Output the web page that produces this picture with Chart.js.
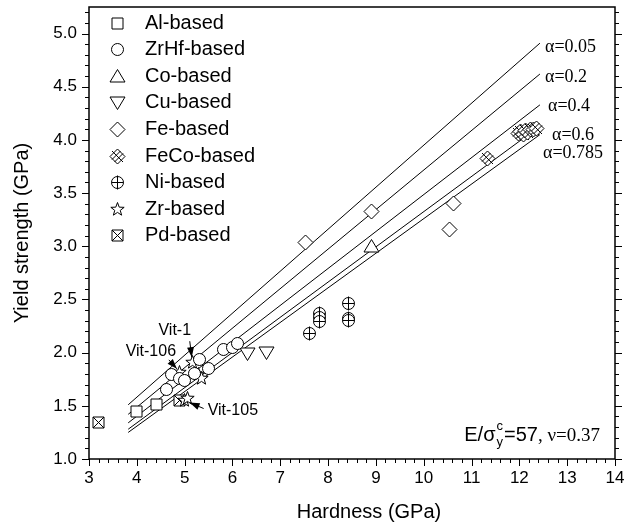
<!DOCTYPE html>
<html>
<head>
<meta charset="utf-8">
<script src="https://cdn.jsdelivr.net/npm/chart.js@4.4.0/dist/chart.umd.min.js"></script>
<style>html,body{margin:0;padding:0;background:#fff;}</style>
</head>
<body>
<canvas id="myChart" width="628" height="531"></canvas>
<script>
const xTicks = [3, 4, 5, 6, 7, 8, 9, 10, 11, 12, 13, 14];
const yTicks = [1.0, 1.5, 2.0, 2.5, 3.0, 3.5, 4.0, 4.5, 5.0];

// [hardness, yield strength]
const alBased = [[4.0, 1.45], [4.41, 1.51]];
const zrhfBased = [[4.62, 1.65], [4.72, 1.79], [4.9, 1.76], [5.0, 1.74], [5.2, 1.8],
  [5.32, 1.94], [5.5, 1.85], [5.82, 2.03], [6.0, 2.05], [6.1, 2.09]];
const coBased = [[8.91, 3.0]];
const cuBased = [[6.31, 1.99], [6.72, 2.0]];
const feBased = [[7.52, 3.04], [8.91, 3.33], [10.53, 3.16], [10.62, 3.4]];
const fecoBased = [[11.33, 3.83], [11.98, 4.06], [12.03, 4.08], [12.08, 4.05], [12.12, 4.09],
  [12.18, 4.07], [12.24, 4.1], [12.3, 4.1], [12.36, 4.11]];
const niBased = [[7.62, 2.18], [7.82, 2.37], [7.82, 2.33], [7.82, 2.29], [8.42, 2.46], [8.42, 2.32], [8.42, 2.3]];
const zrBased = [[4.9, 1.81], [5.17, 1.91], [5.28, 1.79], [5.35, 1.76], [5.0, 1.55], [5.06, 1.57]];
const pdBased = [[3.19, 1.34], [4.89, 1.55]];

// alpha reference lines: y at the two ends
const alphaX = [3.82, 12.43];
const alpha005 = [1.51, 4.91];
const alpha02 = [1.42, 4.62];
const alpha04 = [1.34, 4.33];
const alpha06 = [1.28, 4.13];
const alpha0785 = [1.25, 4.05];

const SANS = "'Liberation Sans', Arial, sans-serif";
const SERIF = "'Liberation Serif', 'Times New Roman', serif";

function sym(kind) {
  const s = 19, m = 9.5;
  const c = document.createElement('canvas');
  c.width = s; c.height = s;
  const g = c.getContext('2d');
  g.strokeStyle = '#000';
  g.fillStyle = '#fff';
  g.lineWidth = 1;
  g.beginPath();
  if (kind === 'square' || kind === 'pd') {
    g.rect(m - 5.5, m - 5.5, 11, 11);
  } else if (kind === 'circle' || kind === 'ni') {
    g.arc(m, m, 6, 0, Math.PI * 2);
  } else if (kind === 'up') {
    g.moveTo(m, m - 7); g.lineTo(m + 7.5, m + 5.5); g.lineTo(m - 7.5, m + 5.5); g.closePath();
  } else if (kind === 'down') {
    g.moveTo(m, m + 7); g.lineTo(m + 7.5, m - 5.5); g.lineTo(m - 7.5, m - 5.5); g.closePath();
  } else if (kind === 'diamond' || kind === 'feco') {
    g.moveTo(m, m - 7.5); g.lineTo(m + 7.5, m); g.lineTo(m, m + 7.5); g.lineTo(m - 7.5, m); g.closePath();
  } else if (kind === 'star') {
    for (let i = 0; i < 10; i++) {
      const r = i % 2 ? 2.9 : 7;
      const a = -Math.PI / 2 + i * Math.PI / 5;
      const px = m + r * Math.cos(a), py = m + r * Math.sin(a);
      if (i === 0) g.moveTo(px, py); else g.lineTo(px, py);
    }
    g.closePath();
  }
  g.fill();
  g.stroke();
  g.beginPath();
  if (kind === 'ni') {
    g.moveTo(m - 6, m); g.lineTo(m + 6, m);
    g.moveTo(m, m - 7); g.lineTo(m, m + 7);
  } else if (kind === 'feco') {
    [-2.5, 2.5].forEach(k => {
      g.moveTo(m + (k - 8.5) / 2, m + (k + 8.5) / 2); g.lineTo(m + (k + 8.5) / 2, m + (k - 8.5) / 2);
      g.moveTo(m + (k - 8.5) / 2, m - (k + 8.5) / 2 + k); g.lineTo(m + (k + 8.5) / 2, m - (k - 8.5) / 2 + k);
    });
  } else if (kind === 'pd') {
    g.moveTo(m - 5.5, m - 5.5); g.lineTo(m + 5.5, m + 5.5);
    g.moveTo(m + 5.5, m - 5.5); g.lineTo(m - 5.5, m + 5.5);
  }
  g.stroke();
  return c;
}

const series = [
  ['Al-based', alBased, sym('square')],
  ['ZrHf-based', zrhfBased, sym('circle')],
  ['Co-based', coBased, sym('up')],
  ['Cu-based', cuBased, sym('down')],
  ['Fe-based', feBased, sym('diamond')],
  ['FeCo-based', fecoBased, sym('feco')],
  ['Ni-based', niBased, sym('ni')],
  ['Zr-based', zrBased, sym('star')],
  ['Pd-based', pdBased, sym('pd')],
];

const alphaLines = [
  ['α=0.05', alpha005], ['α=0.2', alpha02], ['α=0.4', alpha04], ['α=0.6', alpha06], ['α=0.785', alpha0785],
];

const datasets = series.map(([label, pts, img]) => ({
  label,
  data: pts.map(([x, y]) => ({ x, y })),
  pointStyle: img,
  pointRadius: 6,
  showLine: false,
  order: 0,
}));
alphaLines.forEach(([label, ys]) => {
  datasets.push({
    label,
    data: alphaX.map((x, i) => ({ x, y: ys[i] })),
    showLine: true,
    borderColor: '#000',
    borderWidth: 1,
    pointRadius: 0,
    order: 10,
  });
});

function arrow(ctx, x1, y1, x2, y2) {
  const a = Math.atan2(y2 - y1, x2 - x1);
  ctx.beginPath();
  ctx.moveTo(x1, y1); ctx.lineTo(x2, y2);
  ctx.stroke();
  ctx.beginPath();
  ctx.moveTo(x2, y2);
  ctx.lineTo(x2 - 10 * Math.cos(a) + 3.5 * Math.sin(a), y2 - 10 * Math.sin(a) - 3.5 * Math.cos(a));
  ctx.lineTo(x2 - 10 * Math.cos(a) - 3.5 * Math.sin(a), y2 - 10 * Math.sin(a) + 3.5 * Math.cos(a));
  ctx.closePath();
  ctx.fill();
}

// no extra label overflow padding, so the plot box sits where the original one does
function noPad(s) {
  s.paddingTop = 0; s.paddingBottom = 0; s.paddingLeft = 0; s.paddingRight = 0;
}

const deco = {
  id: 'deco',
  beforeDatasetsDraw(chart) {
    chart.ctx.imageSmoothingEnabled = false;
  },
  afterDraw(chart) {
    const { ctx, chartArea: a, scales: { x, y } } = chart;
    ctx.save();
    ctx.imageSmoothingEnabled = false;
    ctx.strokeStyle = '#000';
    ctx.fillStyle = '#000';
    ctx.lineWidth = 1.5;
    ctx.strokeRect(a.left, a.top, a.right - a.left, a.bottom - a.top);
    ctx.lineWidth = 1;
    ctx.beginPath();
    for (let i = 0; i <= 55; i++) {
      const px = Math.round(x.getPixelForValue(3 + i * 0.2)) + 0.5;
      const len = i % 5 === 0 ? 7 : 4;
      ctx.moveTo(px, a.bottom); ctx.lineTo(px, a.bottom + len);
    }
    for (let i = 0; i <= 42; i++) {
      const py = Math.round(y.getPixelForValue(1 + i * 0.1)) + 0.5;
      const len = i % 5 === 0 ? 7 : 4;
      ctx.moveTo(a.left, py); ctx.lineTo(a.left - len, py);
      ctx.moveTo(a.right, py); ctx.lineTo(a.right + len, py);
    }
    ctx.stroke();

    // x axis title
    ctx.textAlign = 'center';
    ctx.textBaseline = 'middle';
    ctx.font = '20px ' + SANS;
    ctx.fillText('Hardness (GPa)', 369, 512);

    // legend
    ctx.textAlign = 'left';
    ctx.font = '20px ' + SANS;
    series.forEach(([label, , img], i) => {
      const ly = 23 + i * 26.6;
      ctx.drawImage(img, Math.round(117 - img.width / 2), Math.round(ly - img.height / 2));
      ctx.fillText(label, 145, ly);
    });

    // alpha labels
    ctx.font = '18px ' + SERIF;
    const alphaPos = [[545, 47], [545, 77], [548, 106], [552, 135], [543, 153]];
    alphaLines.forEach(([label], i) => ctx.fillText(label, alphaPos[i][0], alphaPos[i][1]));

    // Vit labels and arrows
    const s1 = [x.getPixelForValue(5.17), y.getPixelForValue(1.91)];
    const s106 = [x.getPixelForValue(4.9), y.getPixelForValue(1.81)];
    const s105 = [x.getPixelForValue(5.0), y.getPixelForValue(1.55)];
    ctx.font = '16px ' + SANS;
    ctx.textAlign = 'center';
    ctx.fillText('Vit-1', s1[0] - 18, s1[1] - 32);
    ctx.fillText('Vit-106', s106[0] - 29, s106[1] - 21);
    ctx.textAlign = 'left';
    ctx.fillText('Vit-105', s105[0] + 23, s105[1] + 10);
    arrow(ctx, s1[0] - 3, s1[1] - 21, s1[0] - 1, s1[1] - 5);
    arrow(ctx, s106[0] - 11, s106[1] - 13, s106[0] - 3, s106[1] - 4);
    arrow(ctx, s105[0] + 19, s105[1] + 8, s105[0] + 5, s105[1] + 2);

    // E/sigma annotation, right aligned
    ctx.textBaseline = 'alphabetic';
    ctx.textAlign = 'left';
    const by = 441;
    const big = '20px ' + SANS, small = '13px ' + SANS, serif = '19px ' + SERIF;
    ctx.font = big;
    const w1 = ctx.measureText('E/σ').width, w3 = ctx.measureText('=57').width;
    ctx.font = small;
    const w2 = ctx.measureText('c').width + 2;
    ctx.font = serif;
    const w4 = ctx.measureText(', ν=0.37').width;
    let tx = 600 - (w1 + w2 + w3 + w4);
    ctx.font = big;
    ctx.fillText('E/σ', tx, by);
    tx += w1;
    ctx.font = small;
    ctx.fillText('c', tx + 1, by - 11);
    ctx.fillText('y', tx + 1, by + 5);
    tx += w2;
    ctx.font = big;
    ctx.fillText('=57', tx, by);
    tx += w3;
    ctx.font = serif;
    ctx.fillText(', ν=0.37', tx, by);
    ctx.restore();
  },
};

Chart.defaults.font.family = SANS;
Chart.defaults.color = '#000';

const chart = new Chart(document.getElementById('myChart').getContext('2d'), {
  type: 'scatter',
  data: { datasets },
  options: {
    responsive: false,
    animation: false,
    layout: { padding: { top: 6, right: 0, bottom: 0, left: 0 } },
    plugins: { legend: { display: false }, tooltip: { enabled: false } },
    scales: {
      x: {
        type: 'linear',
        min: 3,
        max: 14,
        afterBuildTicks: s => { s.ticks = xTicks.map(v => ({ value: v })); },
        afterFit: s => { s.height = 72; noPad(s); },
        ticks: { font: { size: 17 }, padding: 9, maxRotation: 0, autoSkip: false, callback: v => String(v) },
        grid: { display: false, drawTicks: false },
        border: { display: false },
      },
      y: {
        type: 'linear',
        min: 1,
        max: 5.25,
        afterBuildTicks: s => { s.ticks = yTicks.map(v => ({ value: v })); },
        afterFit: s => { s.width = 89; noPad(s); },
        ticks: { font: { size: 17 }, padding: 12, callback: v => Number(v).toFixed(1) },
        grid: { display: false, drawTicks: false },
        border: { display: false },
        title: { display: true, text: 'Yield strength (GPa)', font: { size: 20 }, padding: { top: 10, bottom: 0 } },
      },
      y2: {
        type: 'linear',
        position: 'right',
        min: 1,
        max: 5.25,
        afterFit: s => { s.width = 13; noPad(s); },
        ticks: { display: false },
        grid: { display: false, drawTicks: false },
        border: { display: false },
      },
    },
  },
  plugins: [deco],
});
</script>
</body>
</html>
